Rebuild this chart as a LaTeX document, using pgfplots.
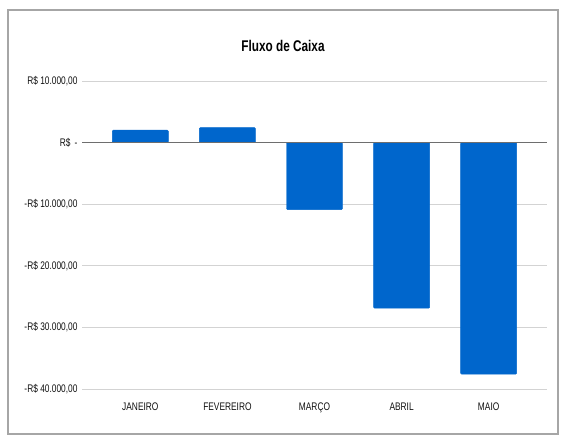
\documentclass[border=0pt]{standalone}
\usepackage{pgfplots}
\pgfplotsset{compat=1.18}
\usepackage{fontspec}
\setmainfont{Liberation Sans}[FakeStretch=0.76]
\definecolor{barblue}{HTML}{0066CC}
\definecolor{gridc}{HTML}{D3D3D3}
\definecolor{zeroc}{HTML}{6E6E6E}
\definecolor{txt}{HTML}{111111}
\begin{document}
\begin{tikzpicture}[x=1pt,y=1pt]
\useasboundingbox (0,0) rectangle (564,440);
\fill[white] (0,0) rectangle (564,440);
\draw[color=gray!70, line width=1.1pt] (8,6) rectangle (558,430);
\node[font=\fontsize{15.5}{18}\selectfont\bfseries, text=black] at (283,394) {Fluxo de Caixa};
\begin{axis}[
  at={(82pt,51pt)}, anchor=south west,
  scale only axis, width=465pt, height=308pt,
  xmin=-0.67, xmax=4.67, ymin=-40000, ymax=10000,
  scaled y ticks=false,
  axis line style={draw=none},
  major tick length=0pt,
  ytick={-40000,-30000,-20000,-10000,0,10000},
  yticklabels={-R\$ 40.000{,}00,-R\$ 30.000{,}00,-R\$ 20.000{,}00,-R\$ 10.000{,}00,{R\$ \,-},R\$ 10.000{,}00},
  xtick={0,1,2,3,4},
  xticklabels={JANEIRO,FEVEREIRO,MARÇO,ABRIL,MAIO},
  ymajorgrids, grid style={color=gridc, line width=0.9pt},
  tick label style={font=\fontsize{11}{13}\selectfont, text=txt},
  yticklabel style={xshift=-1pt},
  xticklabel style={yshift=-10pt},
  clip=false,
]
\addplot[ybar, bar width=0.643, fill=barblue, draw=barblue, rounded corners=1pt] coordinates {(0,2020) (1,2440) (2,-10880) (3,-26880) (4,-37590)};
\draw[color=zeroc, line width=1.5pt] (axis cs:-0.67,0) -- (axis cs:4.67,0);
\end{axis}
\end{tikzpicture}
\end{document}
